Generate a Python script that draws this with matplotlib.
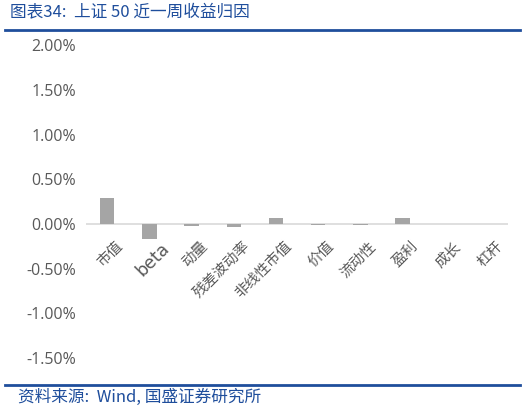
import numpy as np
import matplotlib.pyplot as plt
from matplotlib.ticker import FuncFormatter

plt.rcParams['font.family'] = ['Noto Sans CJK SC', 'DejaVu Sans']

factors = ['市值', 'beta', '动量', '残差波动率', '非线性市值', '价值', '流动性', '盈利', '成长', '杠杆']
returns = [0.29, -0.17, -0.02, -0.03, 0.065, -0.01, -0.01, 0.07, 0.0, 0.0]  # %
yticks = [-1.5, -1.0, -0.5, 0.0, 0.5, 1.0, 1.5, 2.0]

BLUE = '#1f4e9c'
GREY = '#595959'

fig = plt.figure(figsize=(5.31, 4.11), dpi=100)
ax = fig.add_axes([0.162, 0.094, 0.795, 0.807])

ind = np.arange(len(factors))
ax.bar(ind, returns, 0.34, color='#a5a5a5', zorder=3)
ax.axhline(0, color='#d9d9d9', lw=1.2, zorder=2)

ax.set_xlim(-0.5, len(factors) - 0.5)
ax.set_ylim(-1.66, 2.05)
ax.set_yticks(yticks)
ax.yaxis.set_major_formatter(FuncFormatter(lambda v, p: '%.2f%%' % v))
ax.tick_params(axis='y', length=0, labelsize=11.5, labelcolor=GREY, pad=7)
for lab in ax.get_yticklabels():
    lab.set_family('Open Sans')
for s in ax.spines.values():
    s.set_visible(False)

# category labels sit just under the zero line
ax.set_xticks([])
for i, name in enumerate(factors):
    if name == 'beta':
        ax.text(i + 0.27, -0.17, name, rotation=45, ha='right', va='top',
                rotation_mode='anchor', fontsize=12.5, color=GREY,
                family='DejaVu Sans')
    else:
        ax.text(i + 0.2, -0.17, name, rotation=45, ha='right', va='top',
                rotation_mode='anchor', fontsize=10.5, color=GREY)

fig.text(0.018, 0.968, '图表34:  上证 50 近一周收益归因', color=BLUE,
         fontsize=12, style='italic', va='center', ha='left')
fig.add_artist(plt.Line2D([0.01, 0.98], [0.926, 0.926], color=BLUE, lw=2))
fig.add_artist(plt.Line2D([0.01, 0.98], [0.063, 0.063], color=BLUE, lw=2))
fig.text(0.033, 0.032, '资料来源:  Wind, 国盛证券研究所', color=BLUE,
         fontsize=12, style='italic', va='center', ha='left')

fig.savefig('out.png', dpi=100)
